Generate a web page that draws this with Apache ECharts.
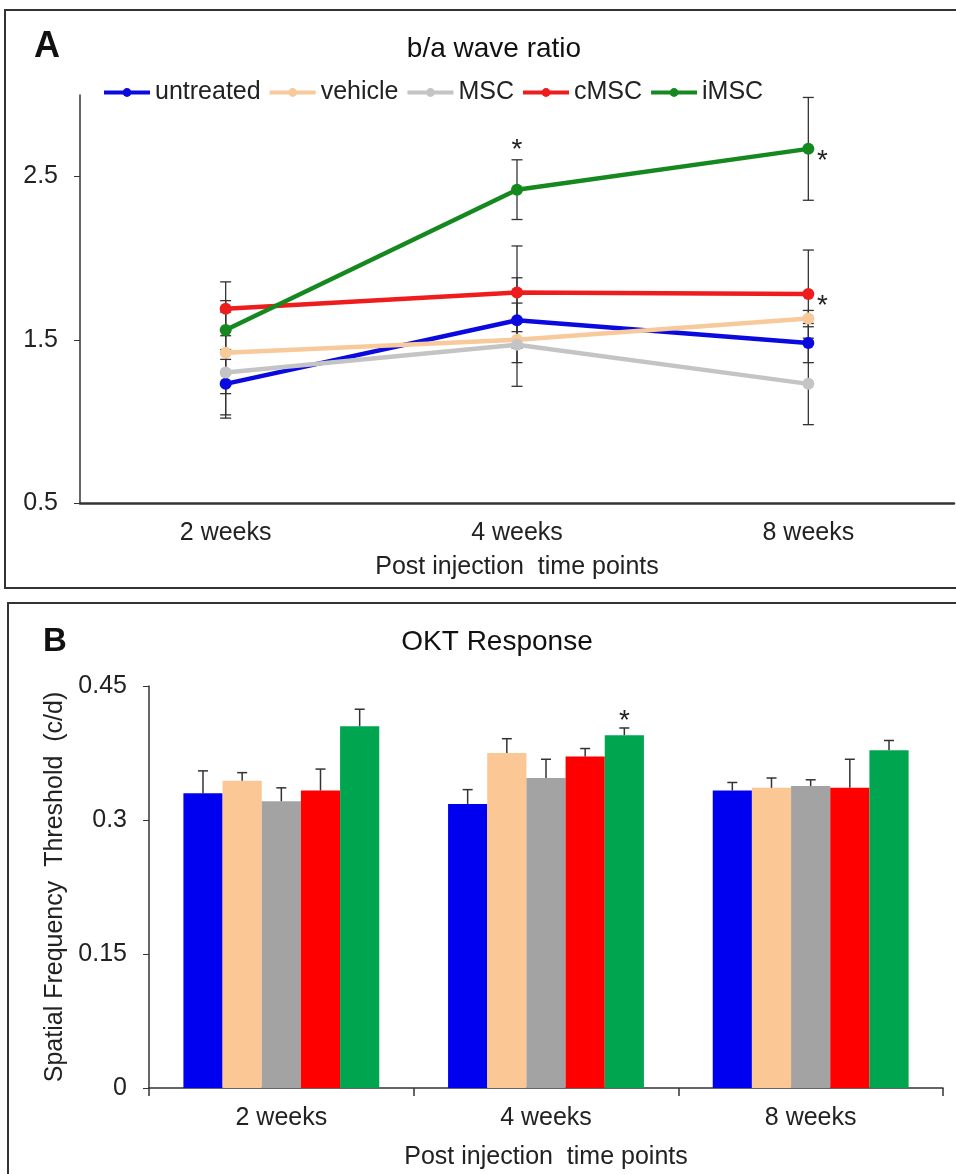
<!DOCTYPE html>
<html>
<head>
<meta charset="utf-8">
<script src="https://cdn.jsdelivr.net/npm/echarts@6/dist/echarts.min.js"></script>
<style>
  html, body { margin: 0; padding: 0; background: #fff; }
  #chart { width: 956px; height: 1174px; }
</style>
</head>
<body>
<div id="chart"></div>
<script>
const weeks = ['2 weeks', '4 weeks', '8 weeks'];
const groups = ['untreated', 'vehicle', 'MSC', 'cMSC', 'iMSC'];

// A: b/a wave ratio (mean, error)
const waveUntreated = [1.23, 1.62, 1.48];
const waveVehicle = [1.42, 1.50, 1.63];
const waveMSC = [1.30, 1.47, 1.23];
const waveCMSC = [1.69, 1.79, 1.78];
const waveIMSC = [1.56, 2.42, 2.67];
const waveErrUntreated = [0.21, 0.26, 0.12];
const waveErrVehicle = [0.25, 0.05, 0.05];
const waveErrMSC = [0.26, 0.255, 0.25];
const waveErrCMSC = [0.165, 0.285, 0.27];
const waveErrIMSC = [0.18, 0.183, 0.315];
const waveTicks = [0.5, 1.5, 2.5];
// [group index, week index, 1 = above error bar, 2 = right of point]
const waveStars = [[4, 1, 1], [4, 2, 2], [3, 2, 2]];

// B: OKT response (mean, upper error)
const oktUntreated = [0.330, 0.318, 0.333];
const oktVehicle = [0.344, 0.375, 0.336];
const oktMSC = [0.321, 0.347, 0.338];
const oktCMSC = [0.333, 0.371, 0.336];
const oktIMSC = [0.405, 0.395, 0.378];
const oktErrUntreated = [0.025, 0.016, 0.009];
const oktErrVehicle = [0.009, 0.016, 0.011];
const oktErrMSC = [0.015, 0.021, 0.007];
const oktErrCMSC = [0.024, 0.009, 0.032];
const oktErrIMSC = [0.019, 0.008, 0.011];
const oktStars = [[4, 1]];

const waveMeans = [waveUntreated, waveVehicle, waveMSC, waveCMSC, waveIMSC];
const waveErrs = [waveErrUntreated, waveErrVehicle, waveErrMSC, waveErrCMSC, waveErrIMSC];
const oktMeans = [oktUntreated, oktVehicle, oktMSC, oktCMSC, oktIMSC];
const oktErrs = [oktErrUntreated, oktErrVehicle, oktErrMSC, oktErrCMSC, oktErrIMSC];

const lineColors = ['#0a0ae0', '#f8c99a', '#c4c4c4', '#ee1c1c', '#15891f'];
const barColors = ['#0000f0', '#fac795', '#a3a3a3', '#ff0000', '#00a550'];
const FONT = 'Liberation Sans';
const BAR_GAP = 0.26;

let chart = echarts.init(document.getElementById('chart'));

function starText(x, y) {
  return {
    type: 'text', x: x, y: y,
    style: { text: '*', fill: '#222', font: '28px "' + FONT + '"', align: 'center', verticalAlign: 'middle' }
  };
}

// error bars for panel A
let waveErrData = [];
waveMeans.forEach((vals, s) => {
  vals.forEach((v, i) => {
    let st = waveStars.find(d => d[0] === s && d[1] === i);
    waveErrData.push([i, v - waveErrs[s][i], v + waveErrs[s][i], v, st ? st[2] : 0]);
  });
});

function renderWaveErr(params, api) {
  let lo = api.coord([api.value(0), api.value(1)]);
  let hi = api.coord([api.value(0), api.value(2)]);
  let mid = api.coord([api.value(0), api.value(3)]);
  let half = 5.5;
  let st = { stroke: '#333', lineWidth: 1.3 };
  let children = [
    { type: 'line', shape: { x1: lo[0], y1: lo[1], x2: hi[0], y2: hi[1] }, style: st },
    { type: 'line', shape: { x1: lo[0] - half, y1: lo[1], x2: lo[0] + half, y2: lo[1] }, style: st },
    { type: 'line', shape: { x1: hi[0] - half, y1: hi[1], x2: hi[0] + half, y2: hi[1] }, style: st }
  ];
  let star = api.value(4);
  if (star === 1) children.push(starText(hi[0], hi[1] - 10));
  if (star === 2) children.push(starText(mid[0] + 14, mid[1] + 12));
  return { type: 'group', children: children };
}

// error bars for panel B (upper only)
let oktErrData = [];
oktMeans.forEach((vals, s) => {
  vals.forEach((v, i) => {
    let st = oktStars.find(d => d[0] === s && d[1] === i);
    oktErrData.push([i, s, v, v + oktErrs[s][i], st ? 1 : 0]);
  });
});

function renderOktErr(params, api) {
  let cat = api.value(0), s = api.value(1);
  let band = api.size([1, 0])[0];
  let barW = band * (1 - BAR_GAP) / groups.length;
  let base = api.coord([cat, api.value(2)]);
  let top = api.coord([cat, api.value(3)]);
  let x = base[0] - band * (1 - BAR_GAP) / 2 + barW * (s + 0.5);
  let st = { stroke: '#333', lineWidth: 1.5 };
  let children = [
    { type: 'line', shape: { x1: x, y1: base[1], x2: x, y2: top[1] }, style: st },
    { type: 'line', shape: { x1: x - 5, y1: top[1], x2: x + 5, y2: top[1] }, style: st }
  ];
  if (api.value(4) === 1) children.push(starText(x, top[1] - 7));
  return { type: 'group', children: children };
}

let axisText = { color: '#222', fontSize: 25, fontFamily: FONT };

let series = [];
groups.forEach((g, s) => {
  series.push({
    name: g,
    type: 'line',
    xAxisIndex: 0, yAxisIndex: 0,
    data: waveMeans[s],
    symbol: 'circle',
    symbolSize: 12,
    lineStyle: { width: 4.5, color: lineColors[s] },
    itemStyle: { color: lineColors[s] },
    z: 3
  });
});
series.push({
  type: 'custom',
  xAxisIndex: 0, yAxisIndex: 0,
  renderItem: renderWaveErr,
  encode: { x: 0, y: [1, 2] },
  data: waveErrData,
  z: 1,
  silent: true
});
groups.forEach((g, s) => {
  series.push({
    name: g + ' OKT',
    type: 'bar',
    xAxisIndex: 1, yAxisIndex: 1,
    data: oktMeans[s],
    barGap: 0,
    barCategoryGap: (BAR_GAP * 100) + '%',
    itemStyle: { color: barColors[s] }
  });
});
series.push({
  type: 'custom',
  xAxisIndex: 1, yAxisIndex: 1,
  renderItem: renderOktErr,
  encode: { x: 0, y: [2, 3] },
  data: oktErrData,
  z: 5,
  silent: true
});

let option = {
  backgroundColor: '#fff',
  animation: false,
  textStyle: { fontFamily: FONT },
  title: [
    { text: 'b/a wave ratio', left: 489, top: 30, textAlign: 'center',
      textStyle: { fontSize: 28, fontWeight: 'normal', color: '#111', fontFamily: FONT } },
    { text: 'OKT Response', left: 492, top: 623, textAlign: 'center',
      textStyle: { fontSize: 28, fontWeight: 'normal', color: '#111', fontFamily: FONT } },
    { text: 'A', left: 29, top: 24, textStyle: { fontSize: 36, fontWeight: 'bold', color: '#111', fontFamily: FONT } },
    { text: 'B', left: 38, top: 620, textStyle: { fontSize: 33, fontWeight: 'bold', color: '#111', fontFamily: FONT } }
  ],
  legend: {
    data: groups,
    left: 97, top: 75,
    itemWidth: 46, itemHeight: 11, itemGap: 7,
    lineStyle: { width: 4 },
    textStyle: { fontSize: 25, color: '#222', fontFamily: FONT }
  },
  graphic: [
    { type: 'rect', shape: { x: 5, y: 10, width: 980, height: 578 },
      style: { fill: 'none', stroke: '#333', lineWidth: 2 } },
    { type: 'rect', shape: { x: 8, y: 603, width: 980, height: 590 },
      style: { fill: 'none', stroke: '#333', lineWidth: 2 } }
  ],
  grid: [
    { left: 80, right: 2, top: 95, height: 408 },
    { left: 149, right: 13, top: 686, height: 402 }
  ],
  xAxis: [
    {
      gridIndex: 0, type: 'category', data: weeks,
      axisLine: { lineStyle: { color: '#333', width: 2.5 } },
      axisTick: { show: false },
      axisLabel: Object.assign({ margin: 18 }, axisText),
      name: 'Post injection  time points', nameLocation: 'middle', nameGap: 52,
      nameTextStyle: axisText
    },
    {
      gridIndex: 1, type: 'category', data: weeks,
      axisLine: { lineStyle: { color: '#333', width: 1.5 } },
      axisTick: { show: true, length: 8, lineStyle: { color: '#333', width: 1.5 } },
      axisLabel: Object.assign({ margin: 18 }, axisText),
      name: 'Post injection  time points', nameLocation: 'middle', nameGap: 57,
      nameTextStyle: axisText
    }
  ],
  yAxis: [
    {
      gridIndex: 0, type: 'value', min: 0.5, max: 3, interval: 1,
      axisLine: { show: true, lineStyle: { color: '#333', width: 1.5 } },
      axisTick: { show: true, length: 6, customValues: waveTicks, lineStyle: { color: '#333' } },
      axisLabel: Object.assign({ margin: 22, customValues: waveTicks }, axisText),
      splitLine: { show: false }
    },
    {
      gridIndex: 1, type: 'value', min: 0, max: 0.45, interval: 0.15,
      axisLine: { show: true, lineStyle: { color: '#333', width: 1.5 } },
      axisTick: { show: true, length: 6, lineStyle: { color: '#333' } },
      axisLabel: Object.assign({ margin: 22 }, axisText),
      splitLine: { show: false },
      name: 'Spatial Frequency  Threshold  (c/d)', nameLocation: 'middle', nameGap: 46, nameRotate: 90,
      nameTextStyle: { color: '#222', fontSize: 25, fontFamily: FONT }
    }
  ],
  series: series
};

chart.setOption(option);
</script>
</body>
</html>
